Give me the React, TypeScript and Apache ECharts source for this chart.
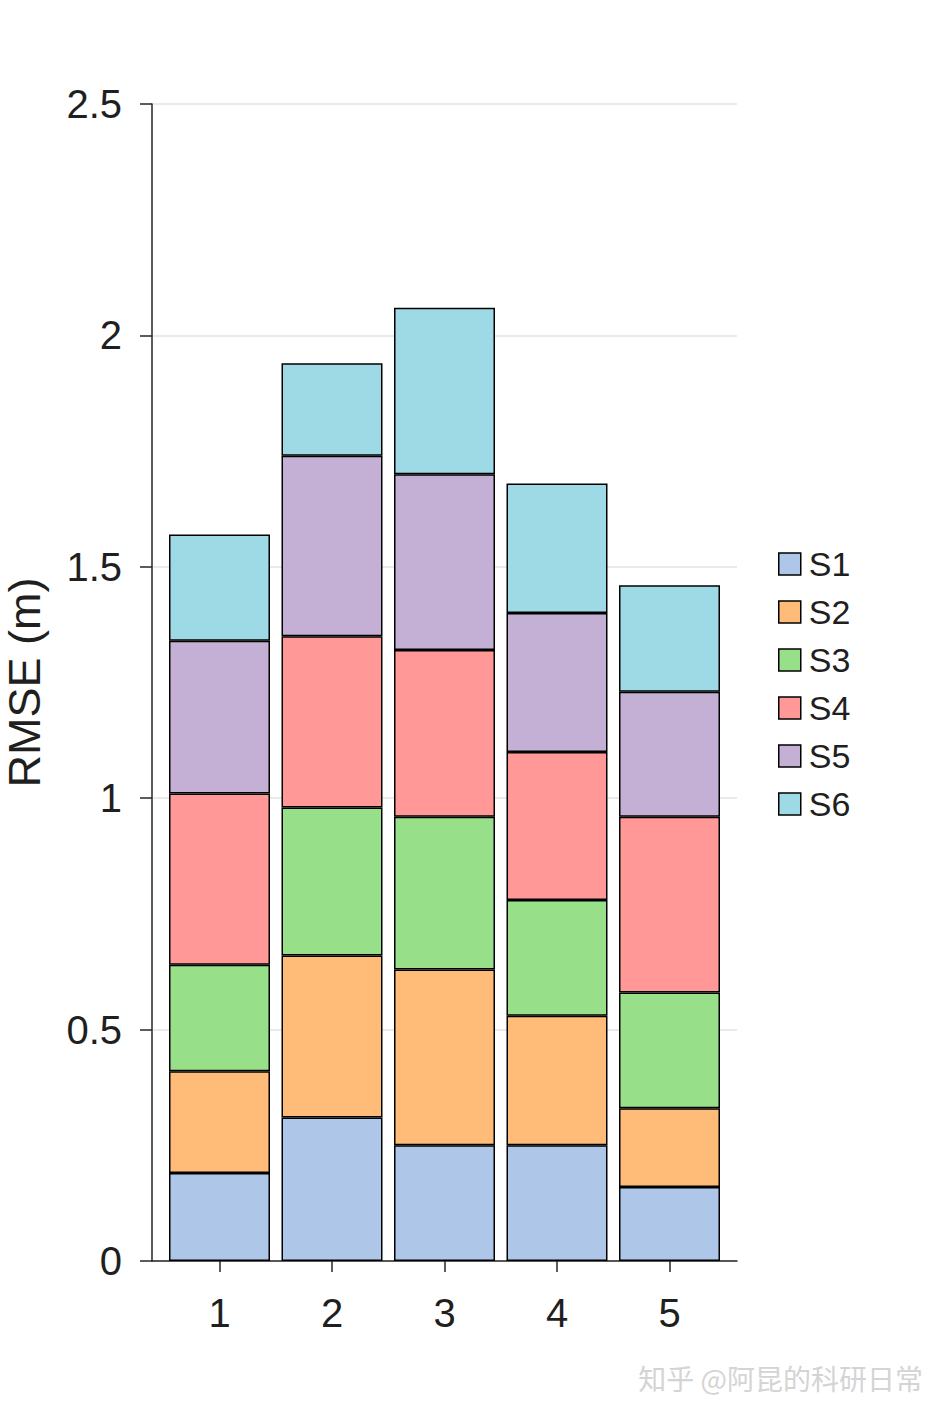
import React, { useEffect, useRef } from "react";
import * as echarts from "echarts";

const categories = [1, 2, 3, 4, 5];
const seriesNames = ["S1", "S2", "S3", "S4", "S5", "S6"];
const s1 = [0.19, 0.31, 0.25, 0.25, 0.16];
const s2 = [0.22, 0.35, 0.38, 0.28, 0.17];
const s3 = [0.23, 0.32, 0.33, 0.25, 0.25];
const s4 = [0.37, 0.37, 0.36, 0.32, 0.38];
const s5 = [0.33, 0.39, 0.38, 0.30, 0.27];
const s6 = [0.23, 0.20, 0.36, 0.28, 0.23];
const seriesValues = [s1, s2, s3, s4, s5, s6];
const colors = ["#aec7e8", "#ffbb78", "#98df8a", "#ff9896", "#c5b0d5", "#9edae5"];

const FONT = "'Liberation Sans', Arial, sans-serif";
const TXT = "#1f1f1f";

export default function App() {
  const ref = useRef<HTMLDivElement>(null);
  useEffect(() => {
    if (!ref.current) return;
    const chart = echarts.init(ref.current, null, { renderer: "svg" });
    chart.setOption({
      animation: false,
      backgroundColor: "#ffffff",
      textStyle: { fontFamily: FONT },
      grid: {
        left: 152,
        right: 208,
        top: 104,
        bottom: 156,
        containLabel: false,
        outerBoundsMode: "none",
      },
      legend: {
        orient: "vertical",
        left: 778,
        top: 547,
        padding: 0,
        itemWidth: 22,
        itemHeight: 22,
        itemGap: 14,
        icon: "rect",
        data: seriesNames,
        textStyle: { fontSize: 34, color: TXT, fontFamily: FONT, padding: [0, 0, 0, 3] },
        itemStyle: { borderColor: "#000", borderWidth: 1.5 },
      },
      xAxis: {
        type: "value",
        min: 0.4,
        max: 5.6,
        axisLine: { onZero: false, lineStyle: { color: "#262626", width: 1.5 } },
        axisTick: {
          show: true,
          customValues: categories,
          length: 11,
          lineStyle: { color: "#262626", width: 1.5 },
        },
        axisLabel: {
          customValues: categories,
          fontSize: 40,
          color: TXT,
          margin: 32,
          fontFamily: FONT,
        },
        splitLine: { show: false },
      },
      yAxis: {
        type: "value",
        min: 0,
        max: 2.5,
        interval: 0.5,
        name: "RMSE (m)",
        nameLocation: "middle",
        nameGap: 105,
        nameTextStyle: { fontSize: 45, color: TXT, fontFamily: FONT },
        axisLine: { show: true, onZero: false, lineStyle: { color: "#262626", width: 1.5 } },
        axisTick: { show: true, length: 12, lineStyle: { color: "#262626", width: 1.5 } },
        axisLabel: { fontSize: 40, color: TXT, margin: 30, fontFamily: FONT },
        splitLine: { show: true, lineStyle: { color: "#e3e3e3", width: 1.5 } },
      },
      series: seriesNames.map((name, i) => ({
        name,
        type: "bar",
        stack: "total",
        dimensions: [
          { name: "rmse", type: "float" },
          { name: "group", type: "float" },
        ],
        encode: { x: 1, y: 0 },
        data: categories.map((c, j) => [seriesValues[i][j], c]),
        barWidth: 101,
        itemStyle: { color: colors[i], borderColor: "#000", borderWidth: 1.5 },
      })),
      graphic: [
        {
          type: "text",
          right: 22,
          top: 1364,
          style: {
            text: "知乎 @阿昆的科研日常",
            fontSize: 28,
            fill: "#d4d4d4",
            fontFamily: "'Noto Sans CJK SC', sans-serif",
          },
        },
      ],
    });
    return () => chart.dispose();
  }, []);
  return (
    <div
      ref={ref}
      style={{ position: "absolute", left: 0, top: 0, width: 945, height: 1417 }}
    />
  );
}
